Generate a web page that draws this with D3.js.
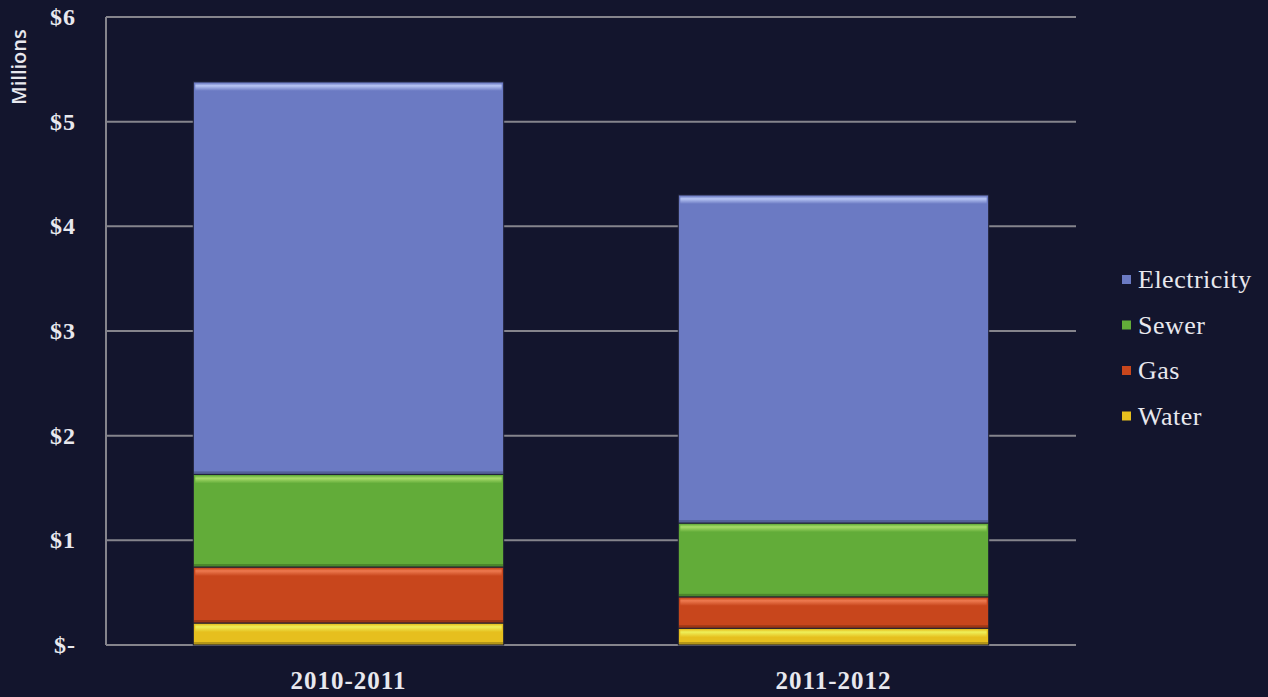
<!DOCTYPE html>
<html>
<head>
<meta charset="utf-8">
<script src="https://cdn.jsdelivr.net/npm/d3@7"></script>
<style>
  body { margin: 0; background: #13152d; }
  svg { display: block; }
</style>
</head>
<body>
<div class="chart"></div>
<script>
const years = ['2010-2011', '2011-2012'];
const seriesNames = ['Water', 'Gas', 'Sewer', 'Electricity'];
const water = [0.21, 0.16];
const gas = [0.535, 0.30];
const sewer = [0.885, 0.705];
const electricity = [3.75, 3.135];
const yTicks = [0, 1, 2, 3, 4, 5, 6];
const tickLabels = ['$-', '$1', '$2', '$3', '$4', '$5', '$6'];
const colors = {
    Water: ['#eef05a', '#e6bf1e'],
    Gas: ['#ee7a50', '#c8461c'],
    Sewer: ['#a8dc6a', '#62ac39'],
    Electricity: ['#b8c6f4', '#6b7ac3']
};

const width = 1268;
const height = 697;
const plotLeft = 106, plotRight = 1076, plotTop = 17, plotBottom = 645;

const rows = years.map((y, i) => ({
    year: y,
    Water: water[i],
    Gas: gas[i],
    Sewer: sewer[i],
    Electricity: electricity[i]
}));
const stacked = d3.stack().keys(seriesNames)(rows);

const svg = d3.select('.chart')
    .append('svg')
    .attr('width', width)
    .attr('height', height)

svg.append('rect')
    .attr('width', width)
    .attr('height', height)
    .attr('fill', '#13152d')

const x = d3.scaleBand().domain(years).range([plotLeft, plotRight]).paddingInner(0.36).paddingOuter(0.18);
const y = d3.scaleLinear().domain([0, 6]).range([plotBottom, plotTop]);

// gradients for the bevelled top edge
const defs = svg.append('defs');
seriesNames.forEach(name => {
    const g = defs.append('linearGradient')
        .attr('id', 'g-' + name)
        .attr('x1', 0).attr('y1', 0).attr('x2', 0).attr('y2', 1);
    g.append('stop').attr('offset', '0%').attr('stop-color', colors[name][1]);
    g.append('stop').attr('offset', '35%').attr('stop-color', colors[name][0]);
    g.append('stop').attr('offset', '100%').attr('stop-color', colors[name][1]);
});

// gridlines
svg.selectAll('.grid')
    .data(yTicks)
    .enter()
    .append('line')
    .attr('x1', plotLeft)
    .attr('x2', plotRight)
    .attr('y1', d => y(d))
    .attr('y2', d => y(d))
    .attr('stroke', '#85848c')
    .attr('stroke-width', 2)

svg.append('line')
    .attr('x1', plotLeft).attr('x2', plotLeft)
    .attr('y1', plotTop).attr('y2', plotBottom)
    .attr('stroke', '#85848c')
    .attr('stroke-width', 2)

// y labels
svg.selectAll('.ylab')
    .data(yTicks)
    .enter()
    .append('text')
    .attr('x', 76)
    .attr('y', d => y(d) + 8)
    .attr('text-anchor', 'end')
    .attr('font-family', 'Liberation Serif')
    .attr('font-weight', 'bold')
    .attr('font-size', 24)
    .attr('letter-spacing', 1)
    .attr('fill', '#e8e8ee')
    .text((d, i) => tickLabels[i])

svg.append('text')
    .attr('transform', 'translate(26,67) rotate(-90)')
    .attr('text-anchor', 'middle')
    .attr('font-family', 'Open Sans')
    .attr('font-weight', 600)
    .attr('font-size', 20)
    .attr('fill', '#e8e8ee')
    .text('Millions')

// bars
const segs = svg.selectAll('.layer')
    .data(stacked)
    .enter()
    .append('g')
    .selectAll('g')
    .data(d => d.map(v => Object.assign(v, { key: d.key })))
    .enter()
    .append('g')

segs.append('rect')
    .attr('x', d => x(d.data.year))
    .attr('width', x.bandwidth())
    .attr('y', d => y(d[1]))
    .attr('height', d => y(d[0]) - y(d[1]))
    .attr('fill', d => colors[d.key][1])

segs.append('rect')
    .attr('x', d => x(d.data.year) + 2)
    .attr('width', x.bandwidth() - 4)
    .attr('y', d => y(d[1]) + 1)
    .attr('height', 8)
    .attr('fill', d => `url(#g-${d.key})`)

segs.append('rect')
    .attr('x', d => x(d.data.year))
    .attr('width', x.bandwidth())
    .attr('y', d => y(d[0]) - 3)
    .attr('height', 3)
    .attr('fill', d => d3.color(colors[d.key][1]).darker(0.7))

segs.append('rect')
    .attr('x', d => x(d.data.year))
    .attr('width', x.bandwidth())
    .attr('y', d => y(d[1]))
    .attr('height', d => y(d[0]) - y(d[1]))
    .attr('fill', 'none')
    .attr('stroke', '#1d1f33')
    .attr('stroke-width', 1)

// x labels
svg.selectAll('.xlab')
    .data(years)
    .enter()
    .append('text')
    .attr('x', d => x(d) + x.bandwidth() / 2)
    .attr('y', 689)
    .attr('text-anchor', 'middle')
    .attr('font-family', 'Liberation Serif')
    .attr('font-weight', 'bold')
    .attr('font-size', 25)
    .attr('letter-spacing', 1)
    .attr('fill', '#e8e8ee')
    .text(d => d)

// legend
const legendOrder = ['Electricity', 'Sewer', 'Gas', 'Water'];
const lg = svg.selectAll('.legend')
    .data(legendOrder)
    .enter()
    .append('g')
    .attr('transform', (d, i) => `translate(1122,${280 + i * 45.5})`)
lg.append('rect')
    .attr('x', 0)
    .attr('y', -5)
    .attr('width', 9)
    .attr('height', 9)
    .attr('fill', d => colors[d][1])
lg.append('text')
    .attr('x', 16)
    .attr('y', 8)
    .attr('font-family', 'Liberation Serif')
    .attr('font-size', 26)
    .attr('letter-spacing', 0.5)
    .attr('fill', '#e8e8ee')
    .text(d => d)
</script>
</body>
</html>
